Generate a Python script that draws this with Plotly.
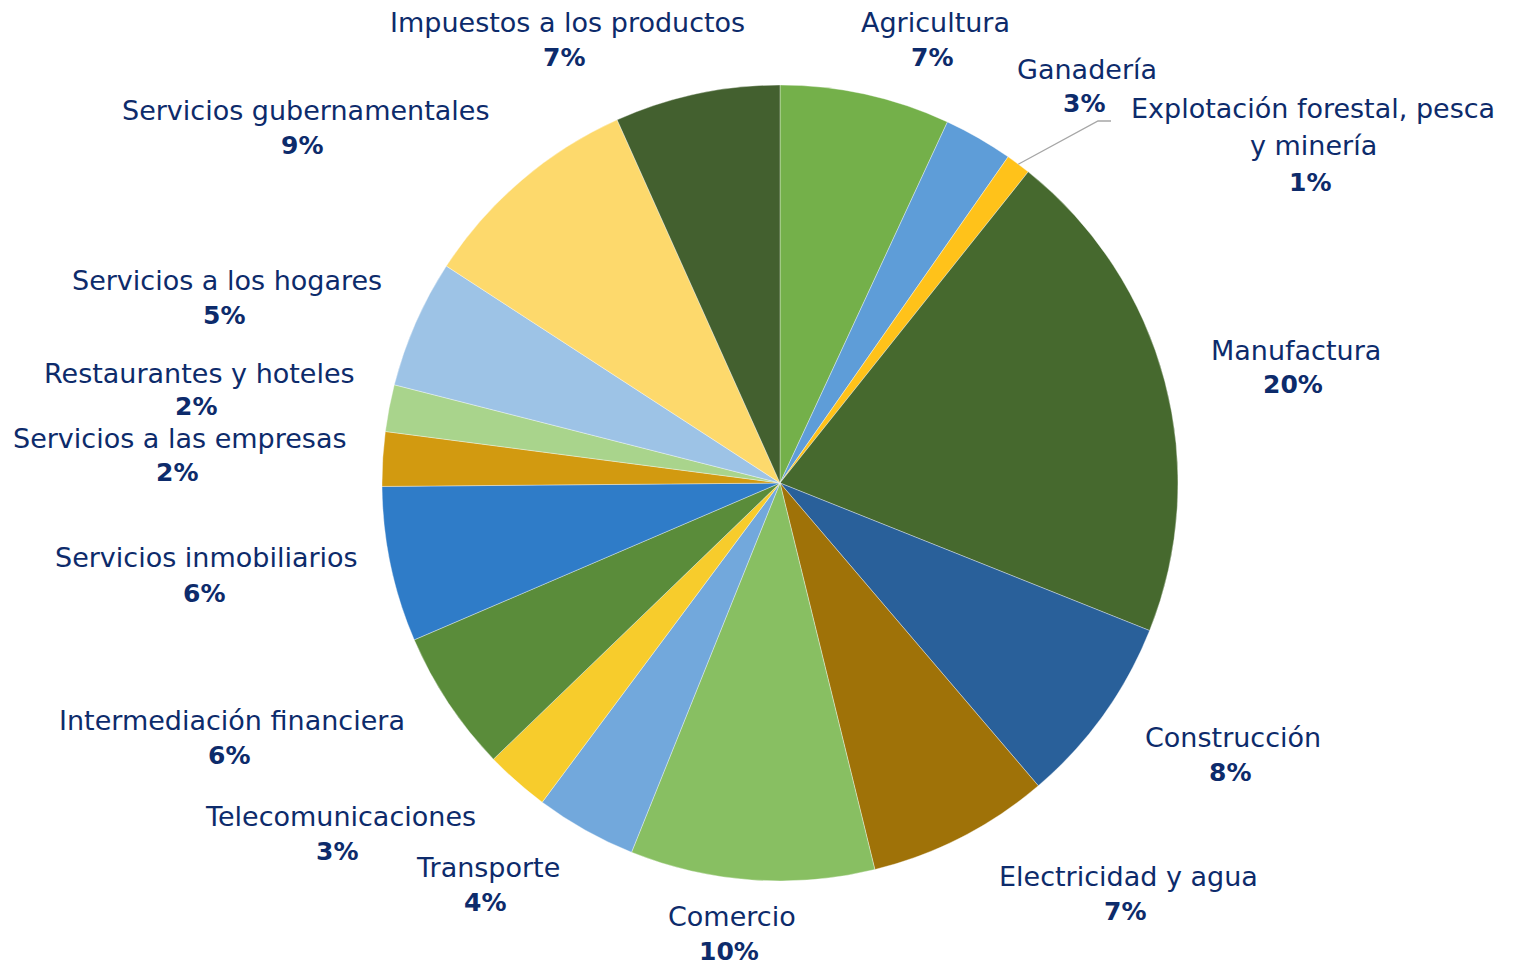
import math
import plotly.graph_objects as go

categories = ["Agricultura", "Ganadería", "Explotación forestal, pesca<br>y minería", "Manufactura",
              "Construcción", "Electricidad y agua", "Comercio", "Transporte", "Telecomunicaciones",
              "Intermediación financiera", "Servicios inmobiliarios", "Servicios a las empresas",
              "Restaurantes y hoteles", "Servicios a los hogares", "Servicios gubernamentales",
              "Impuestos a los productos"]
values = [6.9, 2.8, 1.0, 20.3, 7.7, 7.4, 9.9, 4.1, 2.6, 5.75, 6.3, 2.2, 1.9, 5.2, 9.1, 6.7]

colors = ["#74B04A", "#5E9DD8", "#FFC21A", "#46692E", "#29609A", "#9F7208", "#88BF62", "#72A8DC",
          "#F7CC2C", "#5A8C3A", "#2F7CC8", "#D29A10", "#A9D48C", "#9DC3E6", "#FDD96C", "#43602F"]

# label anchor positions in page pixels (name line center x, name line y, percent line y)
label_pos = [(935, 22, 58), (1087, 69, 104), (1313, 109, 182), (1296, 350, 385),
             (1233, 737, 772), (1128, 876, 911), (732, 916, 951), (488, 867, 902),
             (340, 816, 851), (232, 720, 755), (207, 557, 593), (180, 438, 472),
             (199, 373, 406), (227, 280, 316), (305, 111, 146), (567, 22, 58)]

W, H = 1514, 965
OFF = 8  # page body margin
CX, CY, R = 780 - OFF, 483 - OFF, 398
TXT = "#0D2B6B"
FONT = "DejaVu Sans"
FS = 27


def px(x):
    return (x - OFF) / W


def py_(y):
    return 1 - (y - OFF) / H


fig = go.Figure(go.Pie(
    labels=categories, values=values, sort=False, direction="clockwise", rotation=0,
    marker=dict(colors=colors, line=dict(color="rgba(255,255,255,0.6)", width=0.6)),
    textinfo="none", hoverinfo="label+percent", showlegend=False,
    domain=dict(x=[(CX - R) / W, (CX + R) / W], y=[(H - CY - R) / H, (H - CY + R) / H]),
))

total = sum(values)
ann = []
for cat, v, (lx, ly, pyy) in zip(categories, values, label_pos):
    pct = f"{round(v / total * 100)}%"
    name_lines = cat.split("<br>")
    step = 36.5
    for i, line in enumerate(name_lines):
        ann.append(dict(x=px(lx), y=py_(ly + i * step), xref="paper", yref="paper",
                        text=line, showarrow=False, xanchor="center", yanchor="middle",
                        font=dict(family=FONT, size=FS, color=TXT)))
    ann.append(dict(x=px(lx - 3), y=py_(pyy), xref="paper", yref="paper",
                    text=f"<b>{pct}</b>", showarrow=False, xanchor="center", yanchor="middle",
                    font=dict(family=FONT, size=FS - 2, color=TXT)))

# leader line for the small 'Explotación' slice
cum = sum(values[:2]) + values[2] / 2
ang = cum / total * 2 * math.pi
sx, sy = CX + R * math.sin(ang), CY - R * math.cos(ang)
shapes = [dict(type="path", xref="paper", yref="paper",
               path=f"M {sx / W},{1 - sy / H} L {px(1098)},{py_(121)} L {px(1111)},{py_(121)}",
               line=dict(color="#A6A6A6", width=1.3))]

fig.update_layout(width=W, height=H, margin=dict(l=0, r=0, t=0, b=0),
                  paper_bgcolor="white", plot_bgcolor="white",
                  annotations=ann, shapes=shapes)
fig.write_html("out.html")
